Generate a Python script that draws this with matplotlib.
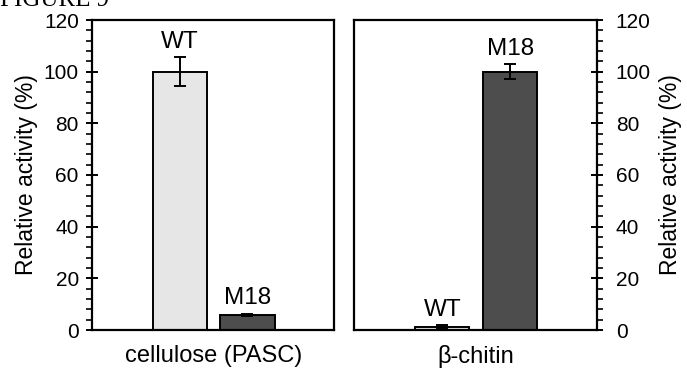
import numpy as np
import matplotlib.pyplot as plt
from matplotlib.ticker import MultipleLocator

plt.rcParams['font.family'] = ['Liberation Sans', 'DejaVu Sans']

# data
groups = ['WT', 'M18']
substrates = ['cellulose (PASC)', 'β-chitin']
activity_cellulose = [100.0, 5.8]
error_cellulose = [5.5, 0.5]
activity_chitin = [1.3, 100.0]
error_chitin = [0.5, 3.0]
y_ticks = [0, 20, 40, 60, 80, 100, 120]

bar_colors = ['#e6e6e6', '#4d4d4d']

fig = plt.figure(figsize=(6.87, 3.75), dpi=100)
ax1 = fig.add_axes([92/687, 45/375, 242/687, 310/375])
ax2 = fig.add_axes([354/687, 45/375, 243/687, 310/375])

# figure caption, cut off by the top edge as in the source image
fig.text(0.0, 0.984, 'FIGURE 9', family='Liberation Serif', fontsize=18,
         va='baseline', ha='left')

x = np.arange(len(groups))
panels = [(ax1, activity_cellulose, error_cellulose, substrates[0]),
          (ax2, activity_chitin, error_chitin, substrates[1])]

for ax, vals, errs, name in panels:
    ax.bar(x, vals, width=0.8, color=bar_colors, edgecolor='black',
           linewidth=1.4, zorder=2)
    ax.errorbar(x, vals, yerr=errs, fmt='none', ecolor='black',
                elinewidth=1.4, capsize=4, capthick=1.4, zorder=3)
    for xi, v, e, g in zip(x, vals, errs, groups):
        ax.text(xi, v + e + 3.6, g, ha='center', va='baseline', fontsize=17.5)
    ax.set_xlim(-1.3, 2.28)
    ax.set_ylim(0, 120)
    ax.set_xticks([0.5])
    ax.set_xticklabels([name], fontsize=17)
    ax.tick_params(axis='x', length=0, pad=11)
    for sp in ax.spines.values():
        sp.set_linewidth(1.6)

ax1.set_yticks(y_ticks)
ax1.yaxis.set_minor_locator(MultipleLocator(4))
ax1.tick_params(axis='y', which='major', direction='inout', length=9,
                width=1.4, labelsize=15, pad=5)
ax1.tick_params(axis='y', which='minor', direction='out', length=4, width=1.2)
ax1.set_ylabel('Relative activity (%)', fontsize=16.5, labelpad=4)

ax2.yaxis.tick_right()
ax2.yaxis.set_label_position('right')
ax2.set_yticks(y_ticks)
ax2.yaxis.set_minor_locator(MultipleLocator(4))
ax2.tick_params(axis='y', which='major', direction='inout', length=9,
                width=1.4, labelsize=15, pad=9)
ax2.tick_params(axis='y', which='minor', direction='out', length=4, width=1.2)
ax2.set_ylabel('Relative activity (%)', fontsize=16.5, labelpad=6)

fig.savefig('out.png', dpi=100)
